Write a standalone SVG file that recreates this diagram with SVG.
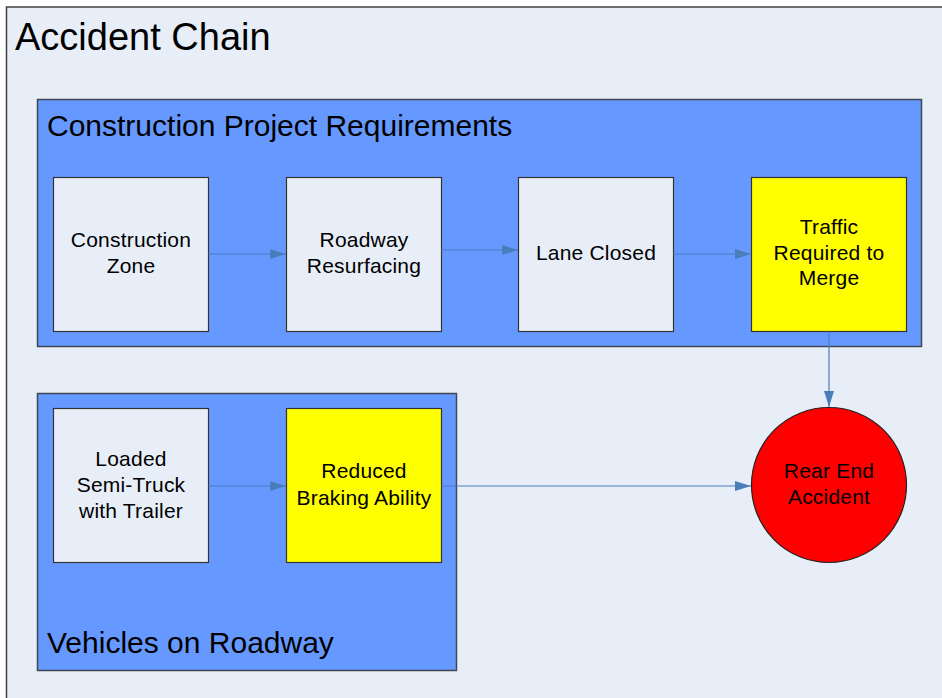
<svg xmlns="http://www.w3.org/2000/svg" width="942" height="698" viewBox="0 0 942 698">
<style>
text{font-family:"Liberation Sans",Arial,sans-serif;fill:#000}
.title{font-size:38px}
.gtitle{font-size:30px}
.nt{font-size:21px;letter-spacing:0.2px;text-anchor:middle}
.grp{fill:#6699ff;stroke:#404552;stroke-width:1.5}
.node{fill:#e8eef8;stroke:#333;stroke-width:1.2}
.hot{fill:#ffff00;stroke:#333;stroke-width:1.2}
.conn{stroke:#4a7ebb;stroke-width:1.2;fill:none;marker-end:url(#ah)}
</style>
<defs>
<marker id="ah" viewBox="0 0 16 10" refX="16" refY="5" markerWidth="16" markerHeight="10" markerUnits="userSpaceOnUse" orient="auto">
<path d="M0,0 L16,5 L0,10 Z" fill="#4a7ebb"/>
</marker>
</defs>
<rect width="942" height="698" fill="#ffffff"/>
<g id="accident-chain">
<rect x="6.5" y="7" width="950" height="710" fill="#e8eef8" stroke="#404040" stroke-width="1.5"/>
<text class="title" x="15" y="50">Accident Chain</text>
</g>
<g id="construction-project-requirements">
<rect class="grp" x="37.5" y="99.5" width="884" height="247"/>
<text class="gtitle" x="47" y="136">Construction Project Requirements</text>
</g>
<g id="vehicles-on-roadway">
<rect class="grp" x="37.5" y="393.5" width="419" height="277"/>
<text class="gtitle" x="47" y="653">Vehicles on Roadway</text>
</g>
<g id="construction-zone">
<rect class="node" x="53.5" y="177.5" width="155" height="154"/>
<text class="nt" x="131" y="247">Construction</text>
<text class="nt" x="131" y="273">Zone</text>
</g>
<g id="roadway-resurfacing">
<rect class="node" x="286.5" y="177.5" width="155" height="154"/>
<text class="nt" x="364" y="247">Roadway</text>
<text class="nt" x="364" y="273">Resurfacing</text>
</g>
<g id="lane-closed">
<rect class="node" x="518.5" y="177.5" width="155" height="154"/>
<text class="nt" x="596" y="260">Lane Closed</text>
</g>
<g id="traffic-required-to-merge">
<rect class="hot" x="751.5" y="177.5" width="155" height="154"/>
<text class="nt" x="829" y="234">Traffic</text>
<text class="nt" x="829" y="260">Required to</text>
<text class="nt" x="829" y="285">Merge</text>
</g>
<g id="loaded-semi-truck">
<rect class="node" x="53.5" y="408.5" width="155" height="154"/>
<text class="nt" x="131" y="466">Loaded</text>
<text class="nt" x="131" y="492">Semi-Truck</text>
<text class="nt" x="131" y="518">with Trailer</text>
</g>
<g id="reduced-braking-ability">
<rect class="hot" x="286.5" y="408.5" width="155" height="154"/>
<text class="nt" x="364" y="478">Reduced</text>
<text class="nt" x="364" y="505">Braking Ability</text>
</g>
<g id="rear-end-accident">
<circle cx="829" cy="485" r="77.5" fill="#ff0000" stroke="#222" stroke-width="1.2"/>
<text class="nt" x="829" y="478">Rear End</text>
<text class="nt" x="829" y="504">Accident</text>
</g>
<g id="connectors">
<path class="conn" d="M208.5,254 H286"/>
<path class="conn" d="M441.5,250 H518"/>
<path class="conn" d="M673.5,254 H751"/>
<path class="conn" d="M829,331.5 V407"/>
<path class="conn" d="M208.5,486 H286"/>
<path class="conn" d="M441.5,486 H751"/>
</g>
</svg>
